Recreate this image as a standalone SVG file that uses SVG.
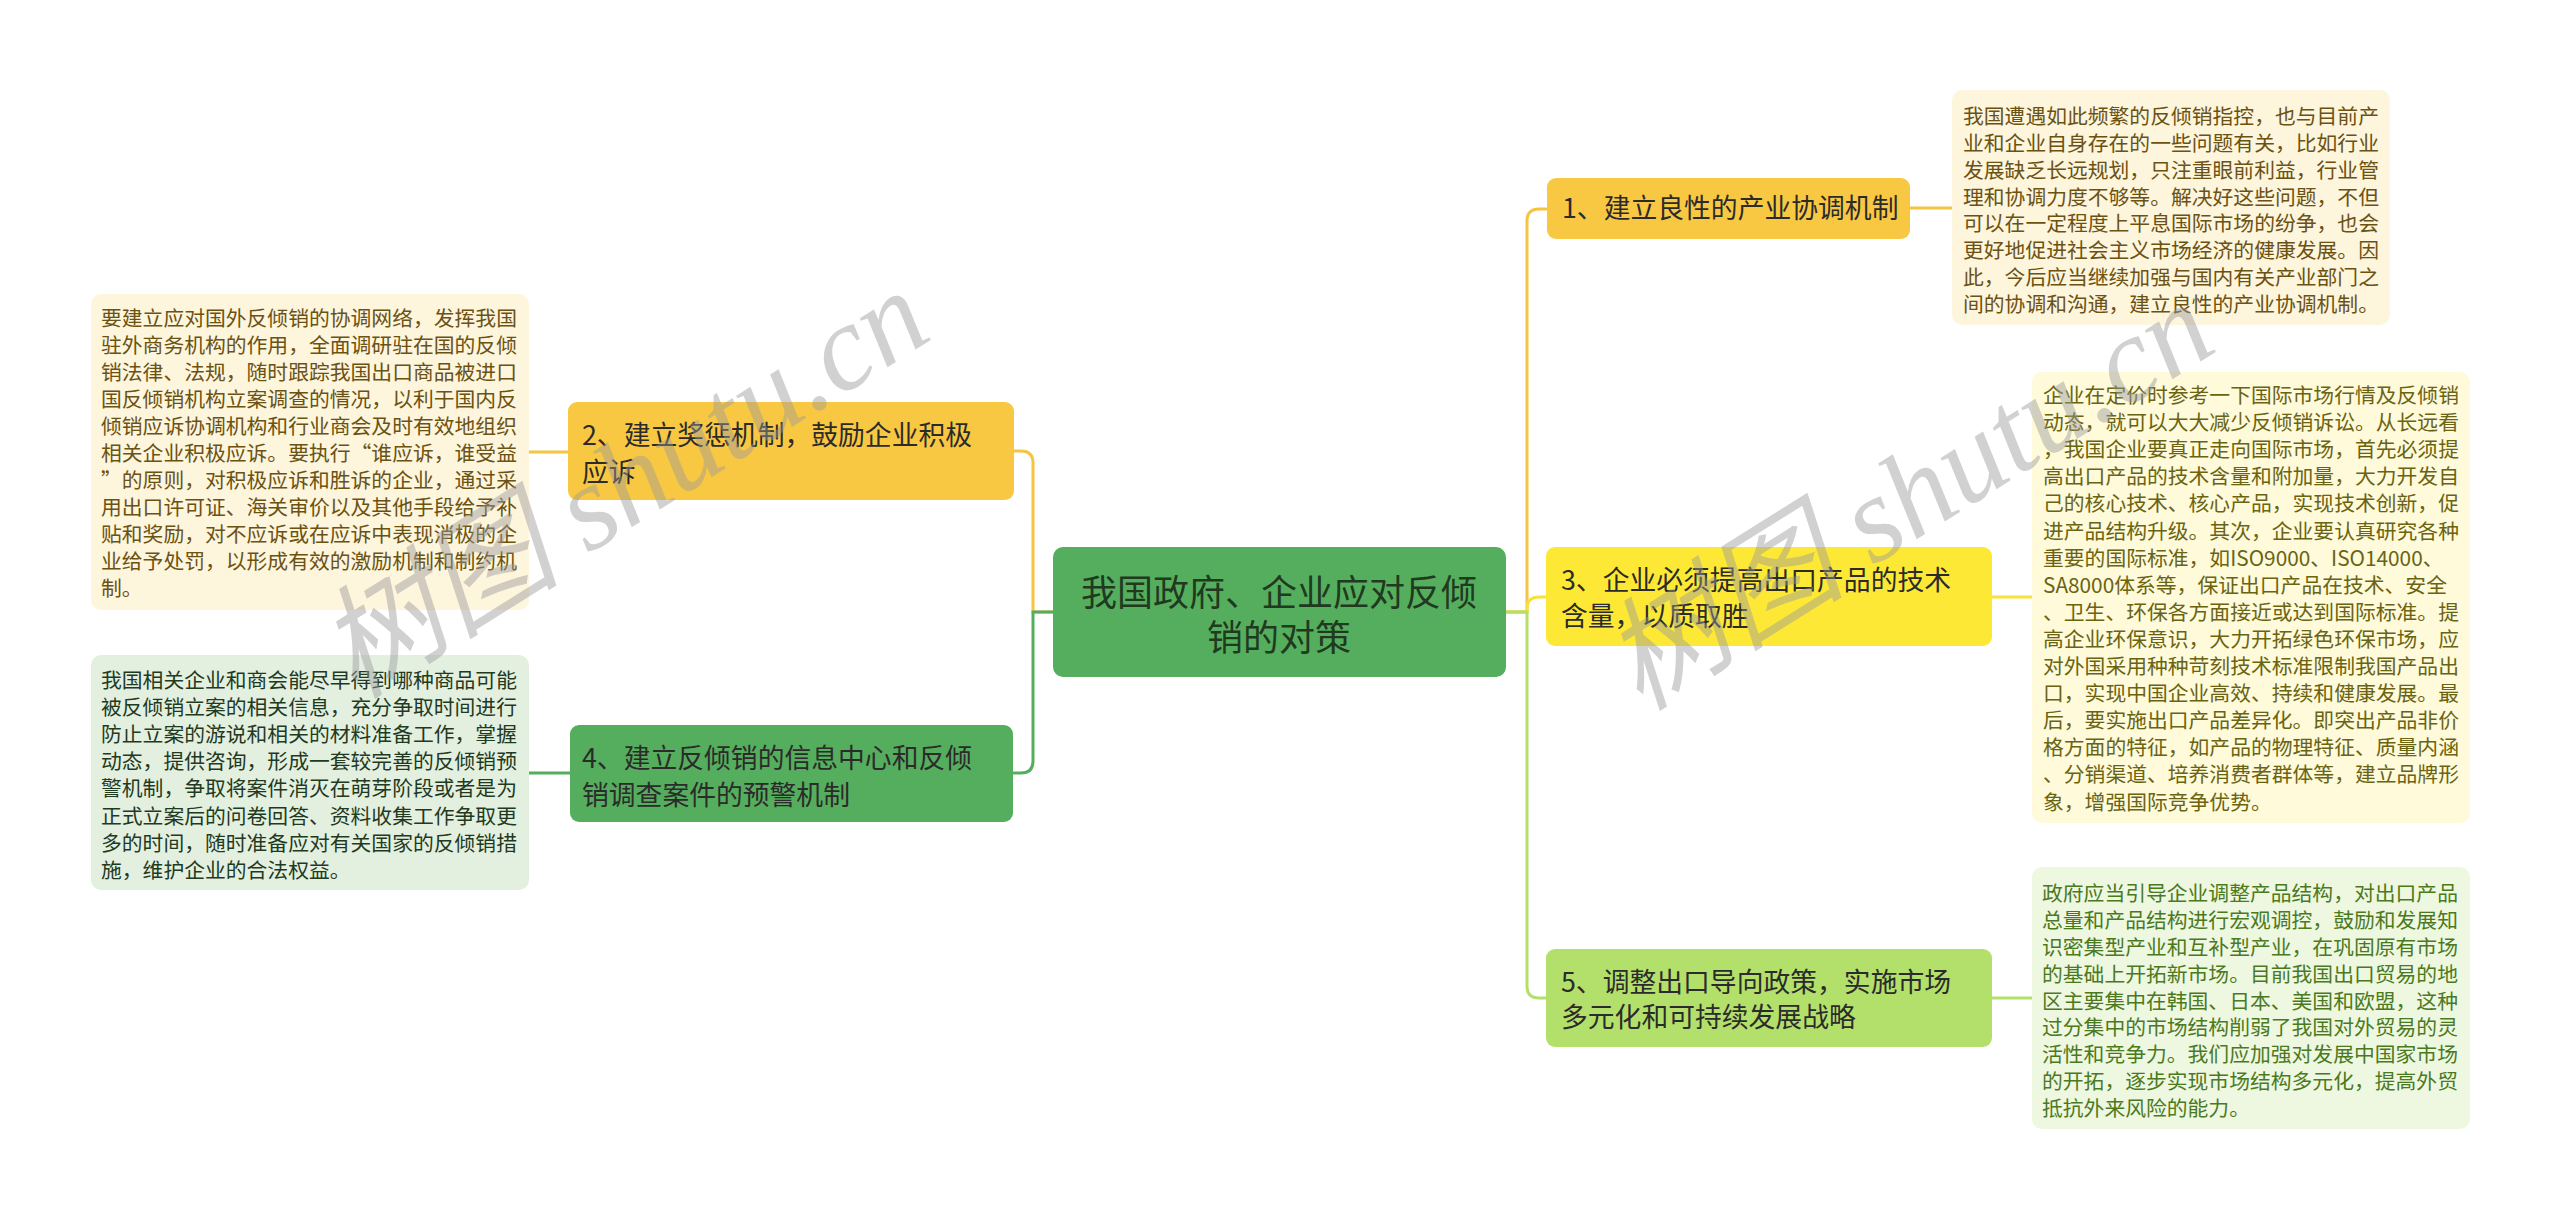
<svg xmlns="http://www.w3.org/2000/svg" width="2560" height="1220" viewBox="0 0 2560 1220">
<style>
.t{font-family:"Noto Sans CJK SC","Noto Sans",sans-serif;}
.d{font-size:20.8px;}
.n{font-size:26.8px;fill:#2b2b2b;}
.c{font-size:36px;fill:#1f3a1f;}
.ln{fill:none;stroke-width:3;}
.wm{font-family:"Liberation Serif","Noto Sans CJK SC",serif;font-style:italic;fill:#9a9a9a;fill-opacity:0.45;}
</style>
<rect width="2560" height="1220" fill="#ffffff"/>
<g id="connectors">
<path class="ln" stroke="#F6C443" d="M1053,612 H1033 V463 Q1033,451 1021,451 H1014"/>
<path class="ln" stroke="#55AE5D" d="M1053,612 H1033 V761 Q1033,773 1021,773 H1013"/>
<path class="ln" stroke="#F6C443" d="M1506,612 H1527 V221 Q1527,209 1539,209 H1547"/>
<path class="ln" stroke="#F5E23A" d="M1506,612 H1527 V609 Q1527,597 1539,597 H1546"/>
<path class="ln" stroke="#B3E06A" d="M1506,612 H1527 V986 Q1527,998 1539,998 H1546"/>
<path class="ln" stroke="#F6C443" d="M529,452 H568"/>
<path class="ln" stroke="#55AE5D" d="M529,773 H570"/>
<path class="ln" stroke="#F6C443" d="M1910,208 H1952"/>
<path class="ln" stroke="#F5E23A" d="M1992,597 H2032"/>
<path class="ln" stroke="#B3E06A" d="M1992,998 H2032"/>
</g>
<g id="center">
<rect x="1053" y="547" width="453" height="130" rx="10" fill="#55AE5D"/>
<text class="t c" text-anchor="middle"><tspan x="1279" y="606">我国政府、企业应对反倾</tspan><tspan x="1279" y="651">销的对策</tspan></text>
</g>
<g id="node1">
<rect x="1547" y="178" width="363" height="61" rx="9" fill="#F9C842"/>
<text class="t n"><tspan x="1562" y="218">1、建立良性的产业协调机制</tspan></text>
</g>
<g id="node2">
<rect x="568" y="402" width="446" height="98" rx="9" fill="#F9C842"/>
<text class="t n"><tspan x="582" y="445">2、建立奖惩机制，鼓励企业积极</tspan><tspan x="582" y="482">应诉</tspan></text>
</g>
<g id="node3">
<rect x="1546" y="547" width="446" height="99" rx="9" fill="#FDE935"/>
<text class="t n"><tspan x="1561" y="590">3、企业必须提高出口产品的技术</tspan><tspan x="1561" y="626">含量，以质取胜</tspan></text>
</g>
<g id="node4">
<rect x="570" y="725" width="443" height="97" rx="9" fill="#55AE5D"/>
<text class="t n" fill="#1f3a1f"><tspan x="582" y="768">4、建立反倾销的信息中心和反倾</tspan><tspan x="582" y="805">销调查案件的预警机制</tspan></text>
</g>
<g id="node5">
<rect x="1546" y="949" width="446" height="98" rx="9" fill="#B3E06A"/>
<text class="t n"><tspan x="1561" y="992">5、调整出口导向政策，实施市场</tspan><tspan x="1561" y="1027">多元化和可持续发展战略</tspan></text>
</g>
<g id="detail1">
<rect x="1952" y="90" width="438" height="235" rx="10" fill="#FDF5DC"/>
<text class="t d" fill="#6B5213">
<tspan x="1963" y="124">我国遭遇如此频繁的反倾销指控，也与目前产</tspan>
<tspan x="1963" y="151">业和企业自身存在的一些问题有关，比如行业</tspan>
<tspan x="1963" y="178">发展缺乏长远规划，只注重眼前利益，行业管</tspan>
<tspan x="1963" y="205">理和协调力度不够等。解决好这些问题，不但</tspan>
<tspan x="1963" y="231">可以在一定程度上平息国际市场的纷争，也会</tspan>
<tspan x="1963" y="258">更好地促进社会主义市场经济的健康发展。因</tspan>
<tspan x="1963" y="285">此，今后应当继续加强与国内有关产业部门之</tspan>
<tspan x="1963" y="312">间的协调和沟通，建立良性的产业协调机制。</tspan>
</text>
</g>
<g id="detail2">
<rect x="91" y="294" width="438" height="316" rx="10" fill="#FDF5DC"/>
<text class="t d" fill="#6B5213">
<tspan x="101" y="326">要建立应对国外反倾销的协调网络，发挥我国</tspan>
<tspan x="101" y="353">驻外商务机构的作用，全面调研驻在国的反倾</tspan>
<tspan x="101" y="380">销法律、法规，随时跟踪我国出口商品被进口</tspan>
<tspan x="101" y="407">国反倾销机构立案调查的情况，以利于国内反</tspan>
<tspan x="101" y="434">倾销应诉协调机构和行业商会及时有效地组织</tspan>
<tspan x="101" y="461">相关企业积极应诉。要执行“谁应诉，谁受益</tspan>
<tspan x="101" y="488">”的原则，对积极应诉和胜诉的企业，通过采</tspan>
<tspan x="101" y="515">用出口许可证、海关审价以及其他手段给予补</tspan>
<tspan x="101" y="542">贴和奖励，对不应诉或在应诉中表现消极的企</tspan>
<tspan x="101" y="569">业给予处罚，以形成有效的激励机制和制约机</tspan>
<tspan x="101" y="596">制。</tspan>
</text>
</g>
<g id="detail3">
<rect x="2032" y="372" width="438" height="451" rx="10" fill="#FEFADA"/>
<text class="t d" fill="#6A6412">
<tspan x="2043" y="403">企业在定价时参考一下国际市场行情及反倾销</tspan>
<tspan x="2043" y="430">动态，就可以大大减少反倾销诉讼。从长远看</tspan>
<tspan x="2043" y="457">，我国企业要真正走向国际市场，首先必须提</tspan>
<tspan x="2043" y="484">高出口产品的技术含量和附加量，大力开发自</tspan>
<tspan x="2043" y="511">己的核心技术、核心产品，实现技术创新，促</tspan>
<tspan x="2043" y="539">进产品结构升级。其次，企业要认真研究各种</tspan>
<tspan x="2043" y="566">重要的国际标准，如ISO9000、ISO14000、</tspan>
<tspan x="2043" y="593">SA8000体系等，保证出口产品在技术、安全</tspan>
<tspan x="2043" y="620">、卫生、环保各方面接近或达到国际标准。提</tspan>
<tspan x="2043" y="647">高企业环保意识，大力开拓绿色环保市场，应</tspan>
<tspan x="2043" y="674">对外国采用种种苛刻技术标准限制我国产品出</tspan>
<tspan x="2043" y="701">口，实现中国企业高效、持续和健康发展。最</tspan>
<tspan x="2043" y="728">后，要实施出口产品差异化。即突出产品非价</tspan>
<tspan x="2043" y="755">格方面的特征，如产品的物理特征、质量内涵</tspan>
<tspan x="2043" y="782">、分销渠道、培养消费者群体等，建立品牌形</tspan>
<tspan x="2043" y="810">象，增强国际竞争优势。</tspan>
</text>
</g>
<g id="detail4">
<rect x="91" y="655" width="438" height="235" rx="10" fill="#E3F0E0"/>
<text class="t d" fill="#1F3A1F">
<tspan x="101" y="688">我国相关企业和商会能尽早得到哪种商品可能</tspan>
<tspan x="101" y="715">被反倾销立案的相关信息，充分争取时间进行</tspan>
<tspan x="101" y="742">防止立案的游说和相关的材料准备工作，掌握</tspan>
<tspan x="101" y="769">动态，提供咨询，形成一套较完善的反倾销预</tspan>
<tspan x="101" y="796">警机制，争取将案件消灭在萌芽阶段或者是为</tspan>
<tspan x="101" y="824">正式立案后的问卷回答、资料收集工作争取更</tspan>
<tspan x="101" y="851">多的时间，随时准备应对有关国家的反倾销措</tspan>
<tspan x="101" y="878">施，维护企业的合法权益。</tspan>
</text>
</g>
<g id="detail5">
<rect x="2032" y="867" width="438" height="262" rx="10" fill="#EEF7E0"/>
<text class="t d" fill="#4B7A1E">
<tspan x="2042" y="901">政府应当引导企业调整产品结构，对出口产品</tspan>
<tspan x="2042" y="928">总量和产品结构进行宏观调控，鼓励和发展知</tspan>
<tspan x="2042" y="955">识密集型产业和互补型产业，在巩固原有市场</tspan>
<tspan x="2042" y="982">的基础上开拓新市场。目前我国出口贸易的地</tspan>
<tspan x="2042" y="1009">区主要集中在韩国、日本、美国和欧盟，这种</tspan>
<tspan x="2042" y="1035">过分集中的市场结构削弱了我国对外贸易的灵</tspan>
<tspan x="2042" y="1062">活性和竞争力。我们应加强对发展中国家市场</tspan>
<tspan x="2042" y="1089">的开拓，逐步实现市场结构多元化，提高外贸</tspan>
<tspan x="2042" y="1116">抵抗外来风险的能力。</tspan>
</text>
</g>
<g id="watermarks">
<text class="wm" font-size="122" transform="translate(355,700) rotate(-32)">树图 shutu.cn</text>
<text class="wm" font-size="122" transform="translate(1640,712) rotate(-32)">树图 shutu.cn</text>
</g>
</svg>
